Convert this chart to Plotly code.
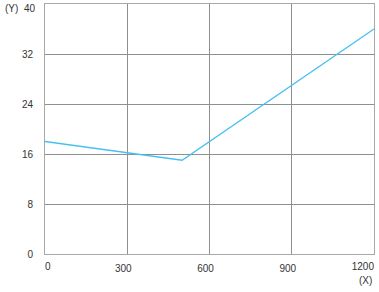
import plotly.graph_objects as go

x_vals = [0, 500, 1200]
y_vals = [18, 15, 36]
x_ticks = [0, 300, 600, 900, 1200]
y_ticks = [0, 8, 16, 24, 32, 40]

FONT = dict(family="Liberation Sans, Arial, sans-serif", size=10, color="#333333")
GRID = "#8f8f8f"
BORDER = "#a8a8a8"

fig = go.Figure()
fig.add_trace(go.Scatter(x=x_vals, y=y_vals, mode="lines",
                         line=dict(color="#45c0f0", width=1.3),
                         hoverinfo="skip", showlegend=False))
# invisible helper traces to activate overlay axes
fig.add_trace(go.Scatter(x=[0], y=[0], xaxis="x2", mode="none", showlegend=False, hoverinfo="skip"))
fig.add_trace(go.Scatter(x=[0], y=[0], xaxis="x3", mode="none", showlegend=False, hoverinfo="skip"))
fig.add_trace(go.Scatter(x=[0], y=[0], yaxis="y2", mode="none", showlegend=False, hoverinfo="skip"))

common = dict(range=[0, 1200], showgrid=False, zeroline=False, showline=False,
              ticks="", tickfont=FONT, automargin=False, fixedrange=True,
              ticklabeloverflow="allow")

fig.update_layout(
    width=379, height=292,
    margin=dict(l=45, r=5, t=4, b=38),
    paper_bgcolor="white", plot_bgcolor="white",
    xaxis=dict(range=[0, 1200], tickvals=x_ticks[1:-1], ticktext=[str(v) for v in x_ticks[1:-1]],
               showgrid=True, gridcolor=GRID, gridwidth=1,
               zeroline=False, showline=True, linecolor=BORDER, linewidth=1, mirror=True,
               ticks="", tickfont=FONT, ticklabelstandoff=5, ticklabelshift=-4,
               automargin=False, fixedrange=True, ticklabeloverflow="allow"),
    xaxis2=dict(overlaying="x", tickvals=[x_ticks[0]], ticktext=[str(x_ticks[0])],
                ticklabelposition="outside right", ticklabelstandoff=5, **common),
    xaxis3=dict(overlaying="x", tickvals=[x_ticks[-1]], ticktext=[str(x_ticks[-1])],
                ticklabelposition="outside left", ticklabelstandoff=5, **common),
    yaxis=dict(range=[0, 40], tickvals=y_ticks[:-1], ticktext=[str(v) for v in y_ticks[:-1]],
               showgrid=True, gridcolor=GRID, gridwidth=1,
               zeroline=False, showline=True, linecolor=BORDER, linewidth=1, mirror=True,
               ticks="", tickfont=FONT, ticklabelstandoff=9, ticklabeloverflow="allow",
               automargin=False, fixedrange=True),
    yaxis2=dict(overlaying="y", side="left", range=[0, 40],
                tickvals=[y_ticks[-1]], ticktext=[str(y_ticks[-1])],
                showgrid=False, zeroline=False, showline=False, ticks="",
                tickfont=FONT, ticklabelstandoff=9, ticklabelshift=4,
                ticklabeloverflow="allow", automargin=False, fixedrange=True),
    annotations=[
        dict(text="(Y)", xref="paper", yref="paper", x=-45/329, y=1, xshift=3,
             xanchor="left", yanchor="middle", yshift=-4, showarrow=False, font=FONT),
        dict(text="(X)", xref="paper", yref="paper", x=1, y=0, yshift=-26,
             xanchor="right", yanchor="middle", showarrow=False, font=FONT),
    ],
)

fig.write_html("out.html")
